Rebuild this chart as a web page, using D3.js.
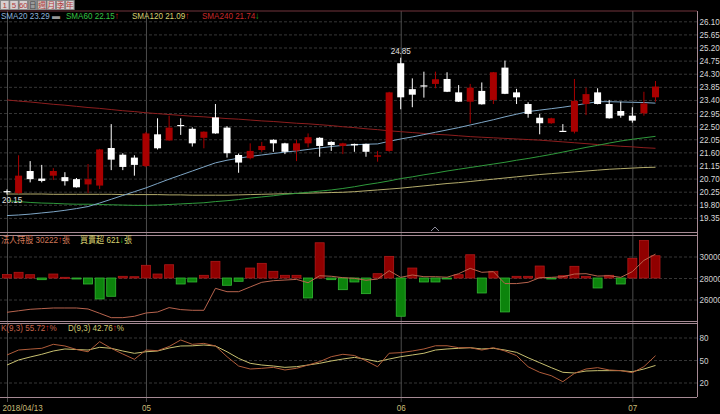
<!DOCTYPE html>
<html>
<head>
<meta charset="utf-8">
<script src="https://cdn.jsdelivr.net/npm/d3@7"></script>
<style>
body { margin: 0; background: #000; }
svg { display: block; font-family: 'Liberation Sans', 'Noto Sans CJK TC', sans-serif; }
</style>
</head>
<body>
<div id="chart"></div>
<script>
// Trading days shown (2018)
var dates = ['04/13','04/16','04/17','04/18','04/19','04/20','04/23','04/24','04/25','04/26','04/27','04/30',
  '05/02','05/03','05/04','05/07','05/08','05/09','05/10','05/11','05/14','05/15','05/16','05/17','05/18',
  '05/21','05/22','05/23','05/24','05/25','05/28','05/29','05/30','05/31',
  '06/01','06/04','06/05','06/06','06/07','06/08','06/11','06/12','06/13','06/14','06/15',
  '06/19','06/20','06/21','06/22','06/25','06/26','06/27','06/28','06/29',
  '07/02','07/03','07/04'];

// OHLC
var open  = [20.27,20.20,20.96,20.70,20.80,20.75,20.68,20.50,20.46,21.75,21.52,21.42,21.13,22.22,22.01,22.54,22.41,22.10,22.80,22.45,
  21.51,21.40,21.68,22.03,21.91,21.66,21.91,22.10,21.96,21.82,21.89,21.89,21.45,21.65,24.66,23.77,23.90,23.95,24.12,23.66,
  23.34,23.71,23.40,24.51,23.66,23.26,22.79,22.60,22.34,22.31,23.26,23.66,23.26,23.02,22.86,22.94,23.49];
var high  = [20.33,21.50,21.30,21.17,21.06,20.92,20.72,21.20,21.72,22.57,21.57,21.50,22.30,22.77,22.86,22.77,22.46,22.32,23.26,22.50,
  21.56,21.91,21.96,22.05,21.93,22.03,22.25,22.12,21.98,21.93,21.90,21.90,21.65,23.68,24.85,24.14,24.37,24.37,24.35,23.91,
  23.95,24.00,24.36,24.75,23.78,23.32,22.92,22.79,22.57,24.12,23.82,23.80,23.40,23.34,23.15,23.68,24.05];
var low   = [20.15,20.18,20.57,20.57,20.65,20.46,20.39,20.20,20.34,20.99,20.99,20.80,21.09,21.70,22.00,22.20,21.80,21.74,22.24,21.42,
  20.90,21.36,21.62,21.62,21.54,21.30,21.77,21.45,21.65,21.54,21.62,21.45,21.28,21.62,23.08,23.15,23.48,23.80,23.67,23.33,
  22.60,23.24,23.26,23.60,23.26,22.79,22.22,22.58,22.31,22.25,22.88,23.25,22.76,22.79,22.62,22.86,23.34];
var close = [20.24,20.80,20.68,20.62,20.96,20.61,20.40,20.68,21.70,21.35,21.10,21.17,22.25,21.74,22.45,22.50,21.91,22.31,22.25,21.57,
  21.25,21.65,21.82,21.91,21.62,21.91,22.12,21.82,21.85,21.91,21.84,21.62,21.50,23.66,23.49,23.58,23.87,24.11,23.68,23.34,
  23.82,23.25,24.35,23.61,23.49,22.92,22.60,22.77,22.32,23.37,23.60,23.26,22.77,22.86,22.69,23.28,23.86];

// Moving averages
var sma20  = [19.43,19.45,19.48,19.52,19.56,19.61,19.67,19.74,19.86,19.99,20.12,20.25,20.38,20.53,20.68,20.82,20.96,21.10,21.24,21.33,
  21.40,21.46,21.51,21.56,21.61,21.65,21.70,21.75,21.80,21.84,21.86,21.88,21.89,21.98,22.06,22.13,22.21,22.29,22.37,22.45,
  22.54,22.63,22.72,22.82,22.91,23.00,23.05,23.10,23.15,23.21,23.28,23.34,23.34,23.33,23.32,23.31,23.29];
var sma60  = [19.94,19.91,19.88,19.86,19.85,19.83,19.82,19.82,19.81,19.80,19.79,19.78,19.78,19.79,19.81,19.83,19.85,19.87,19.91,19.94,
  19.98,20.03,20.07,20.11,20.16,20.19,20.23,20.27,20.31,20.36,20.42,20.49,20.55,20.62,20.70,20.76,20.83,20.89,20.96,21.02,
  21.08,21.14,21.20,21.26,21.33,21.39,21.46,21.53,21.61,21.69,21.77,21.84,21.92,21.99,22.05,22.10,22.15];
var sma120 = [20.17,20.17,20.17,20.17,20.16,20.16,20.16,20.16,20.16,20.16,20.15,20.15,20.15,20.15,20.14,20.14,20.13,20.13,20.13,20.13,
  20.14,20.15,20.16,20.17,20.18,20.19,20.20,20.21,20.22,20.23,20.25,20.28,20.31,20.34,20.37,20.41,20.45,20.49,20.53,20.56,
  20.60,20.64,20.68,20.72,20.76,20.80,20.84,20.87,20.90,20.93,20.96,20.99,21.02,21.04,21.06,21.08,21.09];
var sma240 = [23.40,23.36,23.33,23.29,23.25,23.22,23.18,23.14,23.11,23.07,23.03,23.00,22.96,22.93,22.90,22.87,22.84,22.82,22.79,22.76,
  22.74,22.71,22.68,22.66,22.63,22.60,22.58,22.55,22.52,22.48,22.45,22.41,22.38,22.34,22.31,22.28,22.25,22.22,22.20,22.17,
  22.14,22.12,22.10,22.08,22.06,22.04,22.02,21.99,21.96,21.93,21.90,21.87,21.84,21.81,21.79,21.76,21.74];

// Institutional holdings (line) and net buy/sell (bars), in 張
var holdings = [24810,24950,25090,25150,25210,25210,25210,25117,24717,24310,24310,24440,24745,24838,25246,25060,24996,24996,27040,26726,
  26726,27170,27600,27750,27810,27870,27560,28210,28160,28030,27970,27790,27900,28680,28060,28280,28120,28120,28070,28400,
  28900,28530,28590,27480,27480,27600,28030,28060,28120,28370,28400,28180,28210,28060,28590,29640,30222];
var netBuy = [95,159,92,-47,111,19,-28,-167,-585,-510,47,36,354,111,370,-167,-111,75,465,-203,
  -92,278,409,187,75,75,-557,983,-47,-326,-111,-437,120,604,-1067,278,-111,-111,-28,92,
  649,-418,187,-947,47,47,334,-28,64,326,47,-278,75,-167,549,1050,621];

// KD(9,3)
var kVals = [56.7,63.3,64.5,65.6,70.9,68.7,64,61,74.4,65.6,58,50.9,63.3,62.4,68,76.7,70.9,72.2,68.7,54.4,
  42,38,38.9,40.2,36.7,38.9,43.3,47.8,54.4,57.6,56,49,41,59,59.8,62,64.7,69,69,66.4,
  66.4,63.3,66.4,62,55.8,41,33.6,29.1,21.1,32.2,38,39.8,36.7,35.8,33.1,41.1,55.72];
var dVals = [43.3,50,54,57.6,62,64.7,64,63.3,66.9,65.6,62,58.9,61,62,66,68.7,68.9,70,68.7,61,
  52.2,45.6,43.3,42,40.2,41.1,43.3,45.6,48.7,51.3,53.5,51,47.8,51.3,54.4,56.7,59,63.3,64.7,65.6,
  66.4,64.7,65.6,63.3,60.2,53,46.4,39.8,33.6,32.7,35.3,35.8,35.8,35.8,34.4,38,42.76];

// Axis ticks
var priceTicks = [19.35,19.80,20.25,20.70,21.15,21.60,22.05,22.50,22.95,23.40,23.85,24.30,24.75,25.20,25.65,26.10];
var holdTicks = [26000,28000,30000];
var kdTicks = [20,50,80];
var monthStarts = ['04/13','05/02','06/01','07/02'];
var monthLabels = ['2018/04/13','05','06','07'];
var periodButtons = ['1','5','60','日','週','月','季','年'];

var width = 720, height = 414;
var plotRight = 697;
var mainTop = 11, mainBottom = 232, volTop = 235, volBottom = 321, kdTop = 323, kdBottom = 397;
var fontSize = '9.5px';
var squeeze = 'scale(0.85,1)';   //the terminal font is narrow

var svg = d3.select('#chart').append('svg').attr('width', width).attr('height', height);
svg.append('rect').attr('width', width).attr('height', height).attr('fill', '#000');

var x = d3.scalePoint().domain(dates).range([7, 655.5]);
var y = d3.scaleLinear().domain([19.35, 26.10]).range([217.9, 21.3]);
var yHold = d3.scaleLinear().domain([26000, 30000]).range([299.5, 256.5]);
var yNet = d3.scaleLinear().domain([-1200, 1200]).range([321, 235]);
var yKD = d3.scaleLinear().domain([20, 80]).range([382.5, 337.5]);

//Right axes with grid lines running left across each panel
function rightAxis(scale, ticks, fmt, color) {
    var g = svg.append('g')
        .attr('transform', 'translate(' + plotRight + ',0)')
        .call(d3.axisRight(scale).tickValues(ticks).tickFormat(fmt).tickSize(-plotRight).tickPadding(3));
    g.select('.domain').remove();
    g.selectAll('.tick line').attr('stroke', '#363636').attr('stroke-dasharray', '3,2');
    g.selectAll('.tick text').attr('fill', color).style('font-size', fontSize)
        .attr('font-family', null).attr('transform', squeeze);
    return g;
}
rightAxis(y, priceTicks, d3.format('.2f'), '#d8d8d8');
rightAxis(yHold, holdTicks, d3.format('d'), '#d0d0d0');
rightAxis(yKD, kdTicks, d3.format('d'), '#d0d0d0');

//Month lines and bottom labels
var xg = svg.append('g')
    .attr('transform', 'translate(0,402)')
    .call(d3.axisBottom(x).tickValues(monthStarts).tickSize(-(402 - mainTop)).tickPadding(2)
        .tickFormat(function(d, i) { return monthLabels[i]; }));
xg.select('.domain').remove();
xg.selectAll('.tick line').attr('stroke', '#4c4c4c');
xg.selectAll('.tick text').attr('fill', '#c8bc78').style('font-size', fontSize)
    .attr('font-family', null).attr('transform', squeeze);
xg.select('.tick text').attr('text-anchor', 'start').attr('x', -6);

var idx = d3.range(dates.length);
function drawLine(values, scale, color) {
    svg.append('path')
        .datum(idx)
        .attr('fill', 'none')
        .attr('stroke', color)
        .attr('stroke-width', 1)
        .attr('d', d3.line().x(function(i) { return x(dates[i]); }).y(function(i) { return scale(values[i]); }));
}

//Moving averages
drawLine(sma240, y, '#8e1e1e');
drawLine(sma120, y, '#b4ac6c');
drawLine(sma60, y, '#2f9a3c');
drawLine(sma20, y, '#7ea6c6');

//Candles
var red = '#a80000';
var candles = svg.append('g').selectAll('g').data(idx).enter().append('g');
candles.append('line')
    .attr('x1', function(i) { return x(dates[i]); })
    .attr('x2', function(i) { return x(dates[i]); })
    .attr('y1', function(i) { return y(high[i]); })
    .attr('y2', function(i) { return y(low[i]); })
    .attr('stroke', function(i) { return close[i] >= open[i] ? red : '#fff'; });
candles.append('rect')
    .attr('x', function(i) { return x(dates[i]) - 3.5; })
    .attr('width', 7)
    .attr('y', function(i) { return y(Math.max(open[i], close[i])); })
    .attr('height', function(i) { return Math.max(1.2, Math.abs(y(open[i]) - y(close[i]))); })
    .attr('fill', function(i) { return close[i] >= open[i] ? red : '#fff'; });

//Text placed at a point, squeezed horizontally
function label(xPos, yPos, anchor) {
    return svg.append('g').attr('transform', 'translate(' + xPos + ',' + yPos + ') ' + squeeze)
        .append('text').attr('text-anchor', anchor || 'start').style('font-size', fontSize);
}

//High / low labels
var hi = d3.maxIndex(high), lo = d3.minIndex(low);
label(x(dates[hi]), y(high[hi]) - 4, 'middle').attr('fill', '#e0e0e0').text(high[hi].toFixed(2));
label(x(dates[lo]) - 5, y(low[lo]) + 8).attr('fill', '#e0e0e0').text(low[lo].toFixed(2));

//Net buy/sell bars
svg.append('g').selectAll('rect').data(idx).enter().append('rect')
    .attr('x', function(i) { return x(dates[i]) - 4.5; })
    .attr('width', 9)
    .attr('y', function(i) { return yNet(Math.max(netBuy[i], 0)); })
    .attr('height', function(i) { return Math.max(1, Math.abs(yNet(netBuy[i]) - yNet(0))); })
    .attr('fill', function(i) { return netBuy[i] >= 0 ? '#900000' : '#0c840c'; })
    .attr('stroke', function(i) { return netBuy[i] >= 0 ? '#b01818' : '#34b834'; })
    .attr('stroke-width', 0.8);
drawLine(holdings, yHold, '#b8644e');

//KD lines
drawLine(dVals, yKD, '#c8c070');
drawLine(kVals, yKD, '#b05c3a');

//Panel borders
var border = '#a68a94';
svg.append('line').attr('x1', 0).attr('x2', plotRight).attr('y1', mainTop).attr('y2', mainTop).attr('stroke', '#73343c');
[mainBottom, volTop, volBottom, kdTop, kdBottom].forEach(function(yy) {
    svg.append('line').attr('x1', 0).attr('x2', plotRight).attr('y1', yy + 0.5).attr('y2', yy + 0.5).attr('stroke', border);
});
svg.append('line').attr('x1', plotRight + 0.5).attr('x2', plotRight + 0.5).attr('y1', mainTop).attr('y2', kdBottom).attr('stroke', border);
svg.append('path').attr('d', 'M431,231 L435,227 L439,231').attr('fill', 'none').attr('stroke', '#8a8a9a');

//Period buttons
var btn = svg.append('g').selectAll('g').data(periodButtons).enter().append('g')
    .attr('transform', function(d, i) { return 'translate(' + (i * 9.3) + ',0)'; });
btn.append('rect').attr('x', 0.5).attr('y', 0.5).attr('width', 8.5).attr('height', 9)
    .attr('fill', function(d) { return d === '日' ? '#9a9a9a' : '#d6cfcf'; }).attr('stroke', '#888');
btn.append('text').attr('x', 4.75).attr('y', 8.3).attr('text-anchor', 'middle')
    .attr('fill', function(d) { return d === '日' ? '#444' : '#b03c3c'; })
    .style('font-size', '8px').text(function(d) { return d; });

//Legends
function legend(xPos, yPos, parts) {
    var t = label(xPos, yPos);
    parts.forEach(function(p) { t.append('tspan').attr('fill', p[1]).text(p[0]); });
}
var last = dates.length - 1;
var up = '↑', dn = '↓';
legend(1, 19, [['SMA20 ' + sma20[last].toFixed(2) + ' ', '#8cb4dc'], ['▬', '#9a9a9a']]);
legend(66, 19, [['SMA60 ' + sma60[last].toFixed(2), '#34c444'], [up, '#e02020']]);
legend(132, 19, [['SMA120 ' + sma120[last].toFixed(2), '#d8d070'], [up, '#e02020']]);
legend(202, 19, [['SMA240 ' + sma240[last].toFixed(2), '#c82828'], [dn, '#20c020']]);
legend(1, 243, [['法人持股 ' + holdings[last], '#d07858'], [up, '#e02020'], ['張', '#d07858']]);
legend(80, 243, [['買賣超 ' + netBuy[last], '#d8d070'], [dn, '#20c020'], ['張', '#d8d070']]);
legend(1, 331, [['K(9,3) ' + kVals[last].toFixed(2), '#c8644a'], [up, '#e02020'], ['%', '#c8644a']]);
legend(68, 331, [['D(9,3) ' + dVals[last].toFixed(2), '#d0c870'], [up, '#e02020'], ['%', '#d0c870']]);
</script>
</body>
</html>
